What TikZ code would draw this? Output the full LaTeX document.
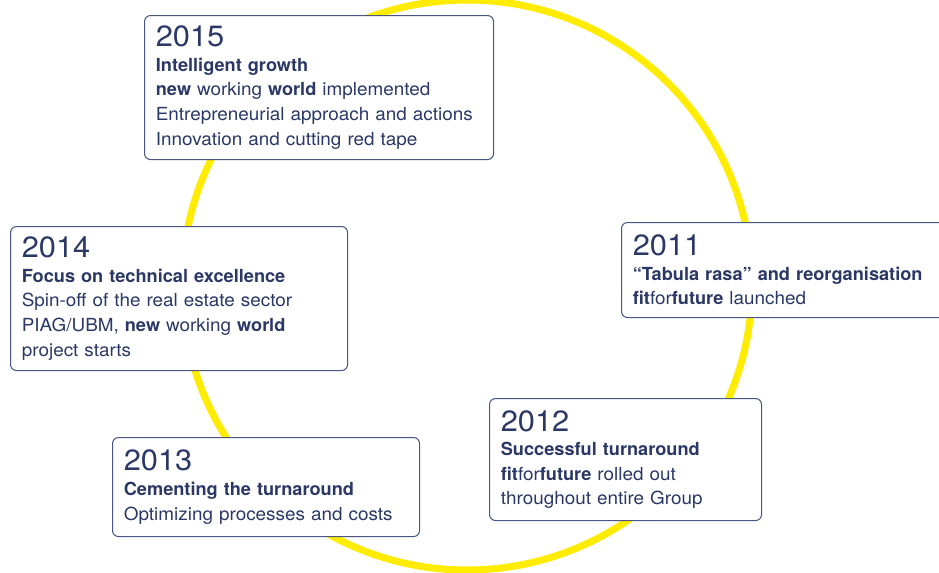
\documentclass[tikz,border=0pt]{standalone}
\usepackage{fontspec}
\setmainfont{TeX Gyre Heros}[
  UprightFeatures={FakeStretch=1.05},
  BoldFeatures={FakeStretch=1.01}]
\usetikzlibrary{positioning}

\definecolor{navy}{HTML}{2B3866}
\definecolor{frame}{HTML}{4A5682}
\definecolor{ringyellow}{HTML}{FFEC00}

\newcommand{\yearline}[1]{{\fontsize{22}{18.4}\selectfont #1}}

\begin{document}
\begin{tikzpicture}[
  x=0.75pt, y=-0.75pt,
  font=\fontsize{13.5}{18.4}\selectfont,
  ring/.style={draw=ringyellow, line width=5.3pt},
  box/.style={draw=frame, fill=white, line width=0.8pt, rounded corners=4.5pt,
              anchor=north west, align=left, text=navy,
              inner xsep=8.5pt, inner ysep=0pt},
]
\useasboundingbox (0,0) rectangle (939,572);
% the cycle behind the boxes
\draw[ring] (467,285) circle[radius=285];
% milestones, clockwise from the top
\node[box, text width=244.75pt, minimum height=108pt] (y2015) at (144,15)
  {\yearline{2015}\\
   \textbf{Intelligent growth}\\
   \textbf{new} working \textbf{world} implemented\\
   Entrepreneurial approach and actions\\
   Innovation and cutting red tape};
\node[box, text width=238pt, minimum height=71.25pt] (y2011) at (621,222)
  {\yearline{2011}\\
   \textbf{“Tabula rasa” and reorganisation}\\
   \textbf{fit}for\textbf{future} launched};
\node[box, text width=187pt, minimum height=91.5pt] (y2012) at (489,398)
  {\yearline{2012}\\
   \textbf{Successful turnaround}\\
   \textbf{fit}for\textbf{future} rolled out\\
   throughout entire Group};
\node[box, text width=213.25pt, minimum height=74.25pt] (y2013) at (112,437)
  {\yearline{2013}\\
   \textbf{Cementing the turnaround}\\
   Optimizing processes and costs};
\node[box, text width=235.75pt, minimum height=108pt] (y2014) at (10,226)
  {\yearline{2014}\\
   \textbf{Focus on technical excellence}\\
   Spin-off of the real estate sector\\
   PIAG/UBM, \textbf{new} working \textbf{world}\\
   project starts};
\end{tikzpicture}
\end{document}
